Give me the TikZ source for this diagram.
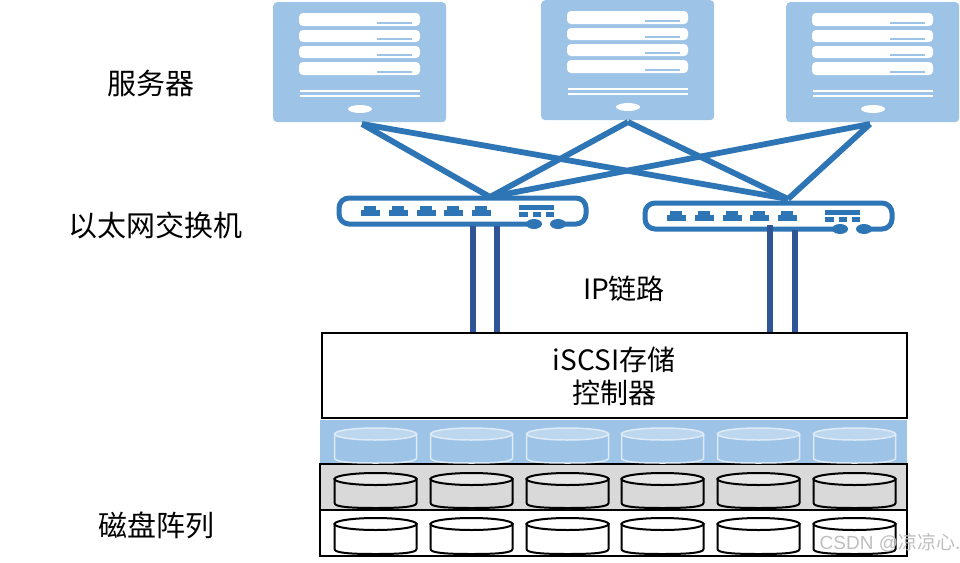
\documentclass[tikz,border=0pt]{standalone}
\usepackage{fontspec}
\setmainfont{Noto Sans CJK SC}
\newfontfamily\markfont{Liberation Sans}
\definecolor{srv}{HTML}{9DC3E6}
\definecolor{net}{HTML}{2E75B6}
\definecolor{lnk}{HTML}{2F5597}
\definecolor{grayrow}{HTML}{D9D9D9}
\definecolor{graytop}{HTML}{E7E7E7}
\definecolor{bluetop}{HTML}{BDD7EE}
\definecolor{blueline}{HTML}{DEEBF7}
\tikzset{
  x=1pt,y=-1pt,
  srvbody/.style={fill=srv,rounded corners=4pt,inner sep=0,anchor=north west,minimum width=173pt,minimum height=120pt},
  srvbar/.style={fill=white,rounded corners=4pt},
  srvrule/.style={draw=white,line width=2pt},
  uplink/.style={draw=net,line width=5.8pt},
  iplink/.style={draw=lnk,line width=5.4pt},
  swframe/.style={draw=net,line width=5pt,rounded corners=10pt},
  swpart/.style={fill=net},
  label/.style={font=\fontsize{29}{35}\selectfont,inner sep=0,align=center,text=black},
  rowbox/.style={draw=black,line width=2pt,inner sep=0,anchor=north west},
  bluedisk/.style={draw=blueline,line width=1.5pt,fill=srv},
  bluedisktop/.style={draw=blueline,line width=1.5pt,fill=bluetop},
  graydisk/.style={draw=black,line width=2pt,fill=grayrow},
  graydisktop/.style={draw=black,line width=2pt,fill=graytop},
  whitedisk/.style={draw=black,line width=2pt,fill=white},
  whitedisktop/.style={draw=black,line width=2pt,fill=white},
}
\newcommand{\myserver}[3]{% name, x, y
  \node[srvbody] (#1) at (#2,#3) {};
  \begin{scope}[shift={(#2,#3)}]
    \foreach \ya/\yb in {11/24,28/40,44/56,60/73}{
      \fill[srvbar] (26,\ya) rectangle (147,\yb);
      \fill[srv] (104,\yb-4) rectangle (139,\yb-2);
    }
    \draw[srvrule] (27,88.5) -- (147,88.5);
    \draw[srvrule] (27,93.5) -- (147,93.5);
    \fill[white] (87,107) ellipse (12 and 4);
  \end{scope}
}
\newcommand{\myswitch}[2]{% x, y shift
  \begin{scope}[shift={(#1,#2)}]
    \draw[swframe] (558,224) -- (586,224) -- (586,198) -- (339,198) -- (339,224) -- (534,224);
    \foreach \px in {370,398,426,453,481}{
      \fill[swpart] (\px-9.5,215.5) rectangle (\px+9.5,209.5);
      \fill[swpart] (\px-6,210) rectangle (\px+6,206);
    }
    \fill[swpart] (519,204.5) rectangle (554,209.5);
    \fill[swpart] (519,211.5) rectangle (527.5,216.5);
    \fill[swpart] (532.5,211.5) rectangle (541,216.5);
    \fill[swpart] (546,211.5) rectangle (554,216.5);
    \fill[swpart] (534,224) ellipse (8 and 5);
    \fill[swpart] (558,224) ellipse (8 and 5);
  \end{scope}
}
\newcommand{\mydisk}[4]{% cx, top, bottom, style
  \draw[#4] (#1-41,#2+6) -- (#1-41,#3-5) .. controls (#1-41,#3-1) and (#1-25,#3) .. (#1,#3) .. controls (#1+25,#3) and (#1+41,#3-1) .. (#1+41,#3-5) -- (#1+41,#2+6) -- cycle;
  \draw[#4top] (#1,#2+6) ellipse (41 and 6);
}
\begin{document}
\begin{tikzpicture}
\useasboundingbox (0,0) rectangle (960,562);
\fill[white] (0,0) rectangle (960,562);

\myserver{s1}{273}{2}
\myserver{s2}{541}{0}
\myserver{s3}{786}{2}
\myswitch{0}{0}
\myswitch{306}{5}

\coordinate (s1c) at (362,124);
\coordinate (s2c) at (628,122);
\coordinate (s3c) at (870,124);
\coordinate (sw1t) at (490,197);
\coordinate (sw2t) at (788,199);
\foreach \a/\b in {s1c/sw1t,s1c/sw2t,s2c/sw1t,s2c/sw2t,s3c/sw1t,s3c/sw2t}
  \draw[uplink] (\a) -- (\b);

\node[rowbox,minimum width=585pt,minimum height=85pt] (ctrl) at (320.5,332) {};
\node[label,font=\fontsize{28}{34}\selectfont] (ctrltext) at (614,376) {iSCSI存储\\[-1pt]控制器};

\coordinate (l1t) at (473,226); \coordinate (l1b) at (473,332);
\coordinate (l2t) at (497,226); \coordinate (l2b) at (497,332);
\coordinate (l3t) at (770,225); \coordinate (l3b) at (770,332);
\coordinate (l4t) at (795,230); \coordinate (l4b) at (795,332);
\foreach \a/\b in {l1t/l1b,l2t/l2b,l3t/l3b,l4t/l4b}
  \draw[iplink] (\a) -- (\b);

\fill[srv] (320,420) rectangle (907,464);
\node[rowbox,fill=grayrow,minimum width=587pt,minimum height=46pt] (grow) at (318.5,463) {};
\node[rowbox,fill=white,minimum width=587pt,minimum height=46pt] (wrow) at (318.5,509) {};

\foreach \cx in {375.5,471.5,567.5,662.5,758.5,854.5}{
  \mydisk{\cx}{428}{463}{bluedisk}
  \mydisk{\cx}{473}{508}{graydisk}
  \mydisk{\cx}{518}{554}{whitedisk}
}

\node[label] (lsrv) at (151,83) {服务器};
\node[label] (lsw) at (155.5,225.5) {以太网交换机};
\node[label,font=\fontsize{28}{34}\selectfont] (lip) at (624,289) {IP链路};
\node[label] (larr) at (156,525) {磁盘阵列};
\node[font=\markfont\fontsize{19}{22}\selectfont,text=gray!50,inner sep=0] (mark) at (890,543) {CSDN @\fontspec{Noto Sans CJK SC}凉凉心.};
\end{tikzpicture}
\end{document}
